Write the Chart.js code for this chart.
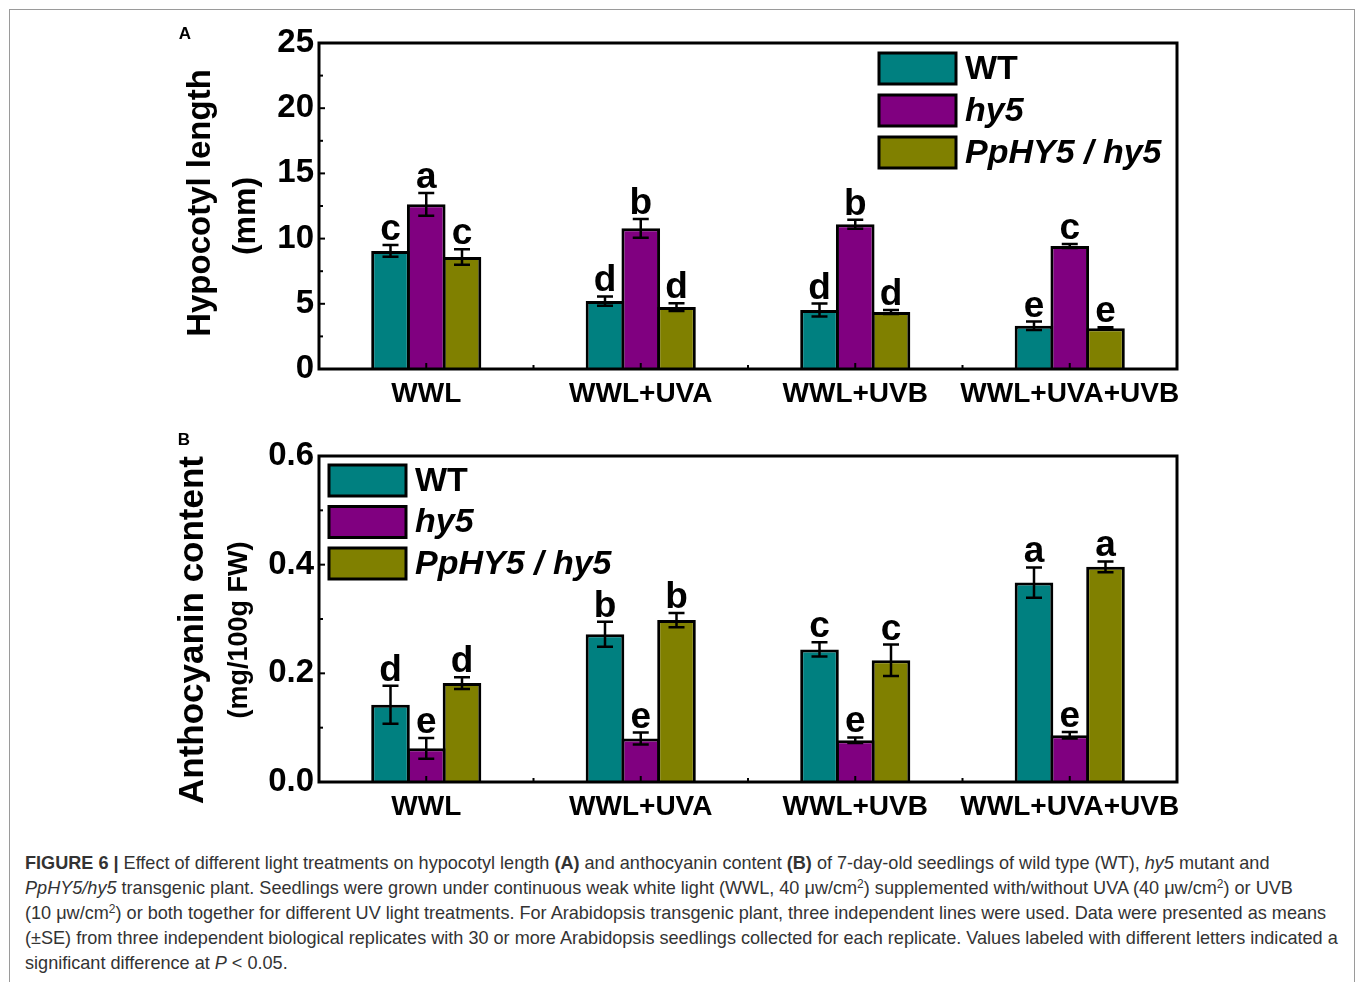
<!DOCTYPE html>
<html>
<head>
<meta charset="utf-8">
<script src="https://cdn.jsdelivr.net/npm/chart.js@4.4.0/dist/chart.umd.min.js"></script>
<style>
  body { margin: 0; background: #fff; width: 1357px; height: 982px; overflow: hidden; position: relative; font-family: 'Liberation Sans', Arial, sans-serif; }
  #frame { position: absolute; left: 9px; top: 9px; width: 1346px; height: 1000px; border: 1px solid #9a9a9a; box-sizing: border-box; }
  #wrapA { position: absolute; left: 0; top: 0; width: 1357px; height: 415px; }
  #wrapB { position: absolute; left: 0; top: 415px; width: 1357px; height: 430px; }
  #caption { position: absolute; left: 25px; top: 851px; font-size: 18.1px; line-height: 25px; color: #333; }
  #caption div { white-space: nowrap; }
  #caption sup { font-size: 12px; line-height: 0; vertical-align: 6px; }
</style>
</head>
<body>
<div id="frame"></div>
<div id="wrapA"><canvas id="chartA"></canvas></div>
<div id="wrapB"><canvas id="chartB"></canvas></div>
<div id="caption">
  <div><b>FIGURE 6 |</b> Effect of different light treatments on hypocotyl length <b>(A)</b> and anthocyanin content <b>(B)</b> of 7-day-old seedlings of wild type (WT), <i>hy5</i> mutant and</div>
  <div><i>PpHY5/hy5</i> transgenic plant. Seedlings were grown under continuous weak white light (WWL, 40 μw/cm<sup>2</sup>) supplemented with/without UVA (40 μw/cm<sup>2</sup>) or UVB</div>
  <div>(10 μw/cm<sup>2</sup>) or both together for different UV light treatments. For Arabidopsis transgenic plant, three independent lines were used. Data were presented as means</div>
  <div>(±SE) from three independent biological replicates with 30 or more Arabidopsis seedlings collected for each replicate. Values labeled with different letters indicated a</div>
  <div>significant difference at <i>P</i> &lt; 0.05.</div>
</div>

<script>
  const categories = ['WWL', 'WWL+UVA', 'WWL+UVB', 'WWL+UVA+UVB'];
  const seriesNames = ['WT', 'hy5', 'PpHY5 / hy5'];

  // A - hypocotyl length (mm)
  const hypoWT = [9.05, 5.21, 4.52, 3.32];
  const hypoHy5 = [12.63, 10.79, 11.1, 9.43];
  const hypoPp = [8.59, 4.75, 4.37, 3.12];
  const hypoErrWT = [0.45, 0.35, 0.5, 0.32];
  const hypoErrHy5 = [0.87, 0.72, 0.35, 0.15];
  const hypoErrPp = [0.6, 0.3, 0.15, 0.08];
  const hypoSigWT = ['c', 'd', 'd', 'e'];
  const hypoSigHy5 = ['a', 'b', 'b', 'c'];
  const hypoSigPp = ['c', 'd', 'd', 'e'];
  const hypoTicks = [0, 5, 10, 15, 20, 25];

  // B - anthocyanin content (mg/100g FW)
  const anthoWT = [0.142, 0.272, 0.244, 0.367];
  const anthoHy5 = [0.062, 0.080, 0.077, 0.086];
  const anthoPp = [0.182, 0.298, 0.224, 0.396];
  const anthoErrWT = [0.035, 0.023, 0.013, 0.028];
  const anthoErrHy5 = [0.019, 0.011, 0.005, 0.006];
  const anthoErrPp = [0.011, 0.013, 0.029, 0.010];
  const anthoSigWT = ['d', 'b', 'c', 'a'];
  const anthoSigHy5 = ['e', 'e', 'e', 'e'];
  const anthoSigPp = ['d', 'b', 'c', 'a'];
  const anthoTicks = [0, 0.2, 0.4, 0.6];

  const colors = ['#008080', '#800080', '#808000'];
  const FONT = "'Liberation Sans', Arial, sans-serif";

  // error bars, letters, frame, inner ticks, legend, titles
  const decor = {
    id: 'decor',
    afterDatasetsDraw(chart, args, opts) {
      const ctx = chart.ctx, ca = chart.chartArea;
      const xs = chart.scales.x, ys = chart.scales.y;
      ctx.save();
      ctx.strokeStyle = '#000';
      ctx.fillStyle = '#000';

      chart.data.datasets.forEach((ds, i) => {
        chart.getDatasetMeta(i).data.forEach((bar, j) => {
          const v = ds.data[j], e = opts.errors[i][j];
          const top = ys.getPixelForValue(v + e), bot = ys.getPixelForValue(v - e);
          ctx.lineWidth = 2.5;
          ctx.beginPath();
          ctx.moveTo(bar.x, top); ctx.lineTo(bar.x, bot);
          ctx.moveTo(bar.x - 8, top); ctx.lineTo(bar.x + 8, top);
          ctx.moveTo(bar.x - 8, bot); ctx.lineTo(bar.x + 8, bot);
          ctx.stroke();
          ctx.font = 'bold 37px ' + FONT;
          ctx.textAlign = 'center';
          ctx.textBaseline = 'alphabetic';
          ctx.fillText(opts.letters[i][j], bar.x, top - 5);
        });
      });

      // frame
      ctx.lineWidth = 3;
      ctx.strokeRect(ca.left, ca.top, ca.width, ca.height);

      // y ticks inside
      ctx.lineWidth = 2;
      const step = opts.step / 2;
      for (let k = 0; k * step <= ys.max + 1e-9; k++) {
        const py = ys.getPixelForValue(k * step);
        const len = k % 2 === 0 ? 6 : 4;
        ctx.beginPath(); ctx.moveTo(ca.left, py); ctx.lineTo(ca.left + len, py); ctx.stroke();
      }
      // x ticks inside
      const n = chart.data.labels.length;
      const cw = (xs.getPixelForValue(1) - xs.getPixelForValue(0));
      for (let j = 0; j < n; j++) {
        const px = xs.getPixelForValue(j);
        ctx.beginPath(); ctx.moveTo(px, ca.bottom); ctx.lineTo(px, ca.bottom - 6); ctx.stroke();
        if (j < n - 1) {
          const bx = px + cw / 2;
          ctx.beginPath(); ctx.moveTo(bx, ca.bottom); ctx.lineTo(bx, ca.bottom - 4); ctx.stroke();
        }
      }

      // legend
      const lg = opts.legend;
      chart.data.datasets.forEach((ds, i) => {
        const ty = lg.y + i * lg.dy;
        ctx.fillStyle = ds.backgroundColor;
        ctx.fillRect(lg.x, ty, lg.w, lg.h);
        ctx.lineWidth = 3;
        ctx.strokeRect(lg.x, ty, lg.w, lg.h);
        ctx.fillStyle = '#000';
        ctx.font = (i === 0 ? '' : 'italic ') + 'bold 34px ' + FONT;
        ctx.textAlign = 'left';
        ctx.textBaseline = 'middle';
        ctx.fillText(ds.label, lg.x + lg.w + 9, ty + lg.h / 2 + 1);
      });

      // rotated axis titles
      opts.titles.forEach(t => {
        ctx.save();
        ctx.translate(t.x, t.y);
        ctx.rotate(-Math.PI / 2);
        ctx.font = t.font;
        ctx.textAlign = 'center';
        ctx.textBaseline = 'middle';
        ctx.fillText(t.text, 0, 0);
        ctx.restore();
      });

      // panel letter
      ctx.font = 'bold 17px ' + FONT;
      ctx.textAlign = 'center';
      ctx.textBaseline = 'middle';
      ctx.fillText(opts.panel.text, opts.panel.x, opts.panel.y);
      ctx.restore();
    }
  };

  function makeChart(id, series, ticks, fmt, pad, decorOpts) {
    return new Chart(document.getElementById(id), {
      type: 'bar',
      data: {
        labels: categories,
        datasets: series.map((d, i) => ({
          label: seriesNames[i],
          data: d,
          backgroundColor: colors[i],
          borderColor: '#000',
          borderWidth: 3,
          borderSkipped: 'start',
          barPercentage: 1.08,
          categoryPercentage: 0.5
        }))
      },
      options: {
        responsive: true,
        maintainAspectRatio: false,
        animation: false,
        layout: { padding: pad },
        plugins: {
          legend: { display: false },
          tooltip: { enabled: false },
          decor: decorOpts
        },
        scales: {
          x: {
            grid: { display: false, drawTicks: false },
            border: { display: false },
            ticks: {
              color: '#000', padding: 8, autoSkip: false, maxRotation: 0, minRotation: 0,
              font: { family: FONT, size: 28, weight: 'bold' }
            },
            afterFit: s => { s.height = 40; }
          },
          y: {
            min: ticks[0],
            max: ticks[ticks.length - 1],
            grid: { display: false, drawTicks: false },
            border: { display: false },
            afterBuildTicks: s => { s.ticks = ticks.map(v => ({ value: v })); },
            ticks: { color: '#000', padding: 5, callback: fmt, font: { family: FONT, size: 33, weight: 'bold' } },
            afterFit: s => { s.width = 319; }
          }
        }
      },
      plugins: [decor]
    });
  }

  makeChart('chartA', [hypoWT, hypoHy5, hypoPp], hypoTicks, v => String(v),
    { left: 0, right: 180, top: 43, bottom: 6 },
    {
      errors: [hypoErrWT, hypoErrHy5, hypoErrPp],
      letters: [hypoSigWT, hypoSigHy5, hypoSigPp],
      step: 5,
      legend: { x: 879, y: 53, dy: 42, w: 77, h: 31 },
      titles: [
        { text: 'Hypocotyl length', x: 201, y: 203, font: 'bold 33px ' + FONT },
        { text: '(mm)', x: 246, y: 216, font: 'bold 32px ' + FONT }
      ],
      panel: { text: 'A', x: 185, y: 34 }
    });

  makeChart('chartB', [anthoWT, anthoHy5, anthoPp], anthoTicks, v => Number(v).toFixed(1),
    { left: 0, right: 180, top: 41, bottom: 23 },
    {
      errors: [anthoErrWT, anthoErrHy5, anthoErrPp],
      letters: [anthoSigWT, anthoSigHy5, anthoSigPp],
      step: 0.2,
      legend: { x: 329, y: 50, dy: 41.5, w: 77, h: 31 },
      titles: [
        { text: 'Anthocyanin content', x: 193, y: 215, font: 'bold 35px ' + FONT },
        { text: '(mg/100g FW)', x: 240, y: 215, font: 'bold 27px ' + FONT }
      ],
      panel: { text: 'B', x: 184, y: 25 }
    });
</script>
</body>
</html>
